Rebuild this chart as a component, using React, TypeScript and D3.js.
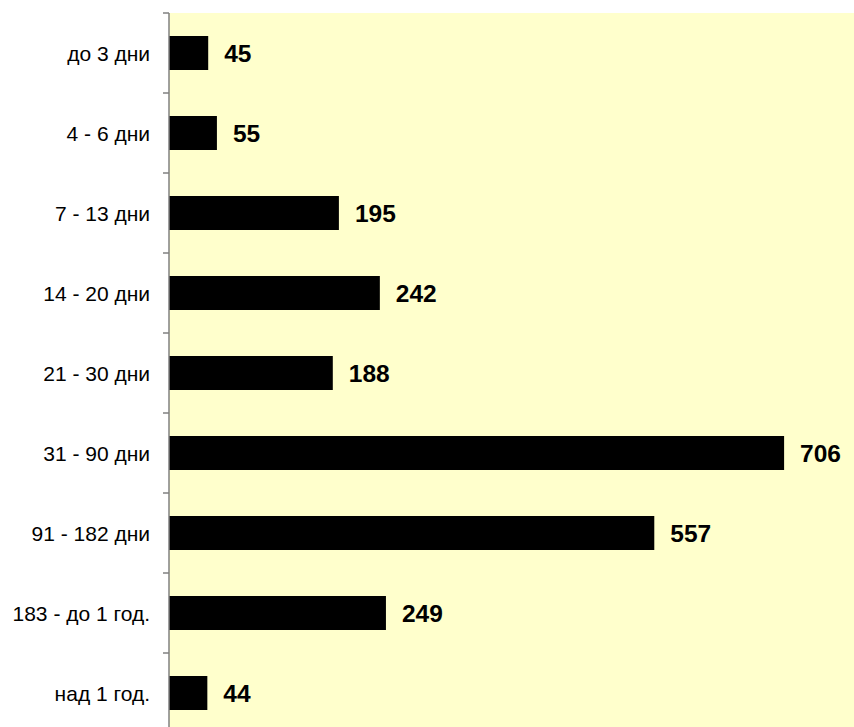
import React from "react";
import * as d3 from "d3";

const categories = ["до 3 дни", "4 - 6 дни", "7 - 13 дни", "14 - 20 дни", "21 - 30 дни", "31 - 90 дни", "91 - 182 дни", "183 - до 1 год.", "над 1 год."];
const values = [45, 55, 195, 242, 188, 706, 557, 249, 44];
const xDomainMax = 800;

export default function App() {
  const W = 854, H = 727;
  const left = 169, top = 13, plotW = 697, plotH = 720;
  const x = d3.scaleLinear().domain([0, xDomainMax]).range([left, left + plotW]);
  const y = d3.scaleBand<string>().domain(categories).range([top, top + plotH]).paddingInner(0.575).paddingOuter(0.2875);
  const band = d3.scaleBand<string>().domain(categories).range([top, top + plotH]);
  const ticks = d3.range(categories.length + 1).map(i => top + i * band.step());
  return (
    <svg width={W} height={H} style={{ position: "absolute", left: 0, top: 0 }} fontFamily="Arial, 'Liberation Sans', sans-serif">
      <rect x={left} y={top} width={plotW} height={plotH} fill="#FFFFCC" />
      {categories.map((c, i) => (
        <g key={c}>
          <rect x={x(0)} y={y(c)!} width={x(values[i]) - x(0)} height={y.bandwidth()} fill="#000" />
          <text x={x(values[i]) + 16} y={y(c)! + y.bandwidth() / 2} dy="0.36em" fontSize={24.5} fontWeight="bold" fill="#000">{values[i]}</text>
          <text x={left - 19} y={band(c)! + band.bandwidth() / 2} dy="0.36em" fontSize={21} textAnchor="end" fill="#000">{c}</text>
        </g>
      ))}
      <line x1={left} x2={left} y1={top} y2={top + plotH} stroke="#808080" strokeWidth={1.5} />
      {ticks.map((t, i) => (
        <line key={i} x1={left - 6} x2={left} y1={t} y2={t} stroke="#808080" strokeWidth={1.5} />
      ))}
    </svg>
  );
}
